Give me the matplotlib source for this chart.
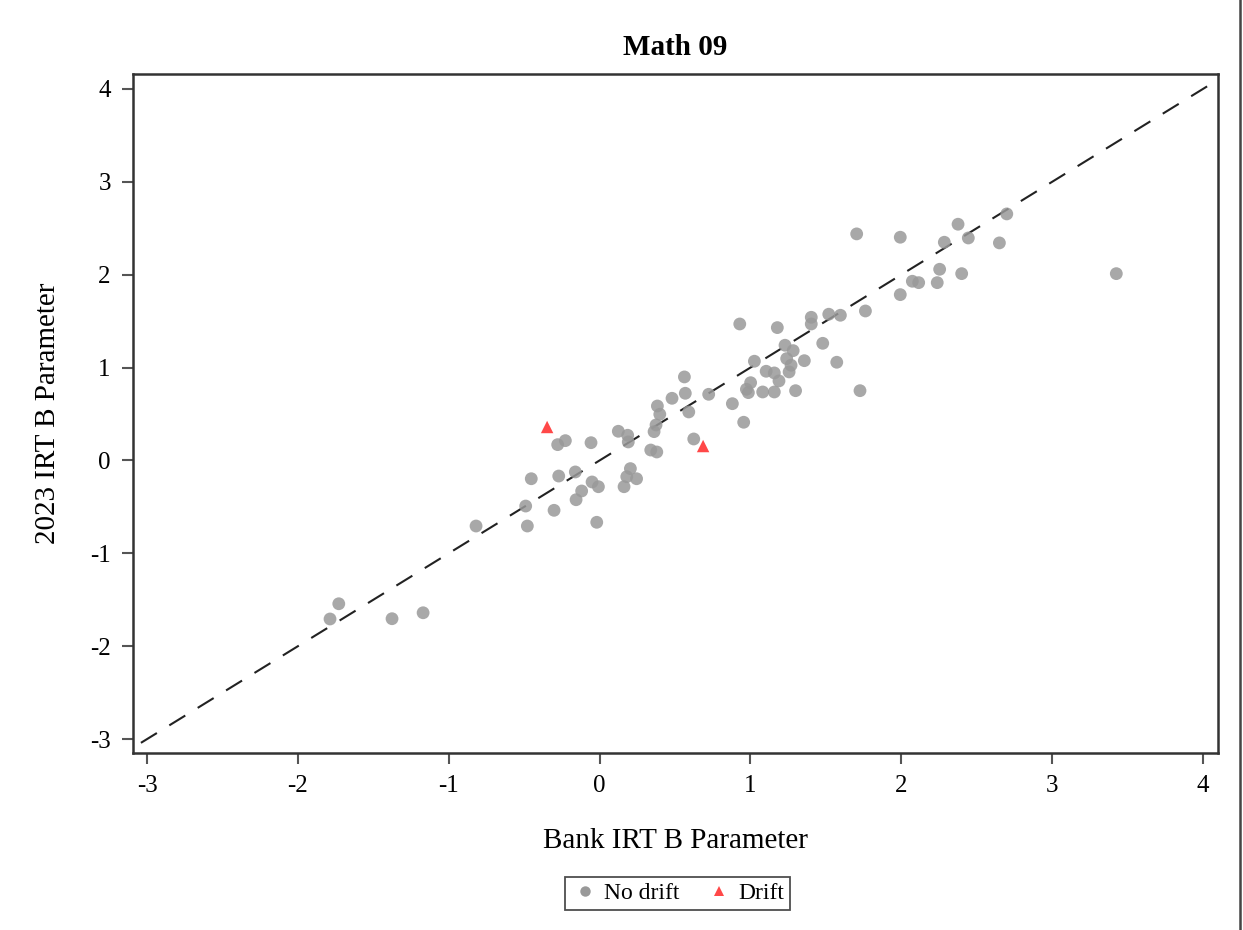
import matplotlib
matplotlib.use("Agg")
import matplotlib.pyplot as plt
from matplotlib.lines import Line2D

# Bank vs 2023 IRT B parameters, items without drift
bank_b = [
    -1.729, -1.787, -1.376, -1.170, -0.819, -0.479, -0.490, -0.453, -0.302, -0.271,
    -0.278, -0.227, -0.161, -0.156, -0.119, -0.057, -0.050, -0.008, -0.019, 0.124,
    0.186, 0.190, 0.162, 0.180, 0.204, 0.245, 0.339, 0.379, 0.361, 0.374,
    0.383, 0.399, 0.480, 0.562, 0.568, 0.591, 0.624, 0.723, 0.880, 0.955,
    0.929, 0.973, 0.986, 1.001, 1.026, 1.081, 1.104, 1.158, 1.158, 1.189,
    1.178, 1.229, 1.240, 1.283, 1.269, 1.256, 1.299, 1.357, 1.403, 1.403,
    1.479, 1.519, 1.572, 1.596, 1.704, 1.726, 1.762, 1.993, 1.993, 2.073,
    2.115, 2.238, 2.254, 2.285, 2.376, 2.400, 2.444, 2.650, 2.699, 3.425,
]
new_b = [
    -1.543, -1.707, -1.704, -1.640, -0.706, -0.706, -0.491, -0.197, -0.537, -0.168,
    0.170, 0.213, -0.124, -0.423, -0.329, 0.191, -0.232, -0.283, -0.666, 0.314,
    0.271, 0.199, -0.283, -0.175, -0.088, -0.197, 0.112, 0.091, 0.310, 0.382,
    0.586, 0.497, 0.669, 0.899, 0.723, 0.522, 0.231, 0.712, 0.611, 0.411,
    1.469, 0.766, 0.730, 0.837, 1.068, 0.737, 0.960, 0.942, 0.737, 0.856,
    1.430, 1.240, 1.096, 1.182, 1.025, 0.953, 0.751, 1.074, 1.541, 1.469,
    1.261, 1.574, 1.057, 1.563, 2.439, 0.751, 1.609, 2.403, 1.785, 1.929,
    1.914, 1.914, 2.058, 2.349, 2.543, 2.011, 2.395, 2.342, 2.654, 2.011,
]

# Items flagged as drifting
drift_bank_b = [-0.348, 0.686]
drift_new_b = [0.360, 0.155]

x_ticks = [-3, -2, -1, 0, 1, 2, 3, 4]
y_ticks = [-3, -2, -1, 0, 1, 2, 3, 4]
x_lim = (-3.093, 4.10)
y_lim = (-3.15, 4.16)

plt.rcParams["font.family"] = ["Liberation Serif", "DejaVu Serif"]

fig = plt.figure(figsize=(12.43, 9.30), dpi=100)
ax = fig.add_axes([0.107, 0.1903, 0.873, 0.7301])

# identity reference line
ax.plot([-4, 5], [-4, 5], linestyle=(0, (9, 7)), color="#222222", linewidth=1.5, zorder=1)

ax.scatter(bank_b, new_b, s=85, marker="o", color="#999999", alpha=0.85,
           edgecolors="none", zorder=2)
ax.scatter(drift_bank_b, drift_new_b, s=80, marker="^", color="#ff4848",
           edgecolors="none", zorder=3)

ax.set_xlim(*x_lim)
ax.set_ylim(*y_lim)
ax.set_xticks(x_ticks)
ax.set_yticks(y_ticks)
ax.set_xticklabels([str(t) for t in x_ticks])
ax.set_yticklabels([str(t) for t in y_ticks])
ax.tick_params(direction="out", length=8, width=1.5, color="#555555",
               labelsize=18, pad=8)

for spine in ax.spines.values():
    spine.set_linewidth(1.8)
    spine.set_color("#333333")

ax.set_title("Math 09", fontsize=21, fontweight="bold", pad=14)
ax.set_xlabel("Bank IRT B Parameter", fontsize=21, labelpad=22)
ax.set_ylabel("2023 IRT B Parameter", fontsize=21, labelpad=21)

handles = [
    Line2D([], [], marker="o", linestyle="none", color="#999999", markersize=7.5,
           markeredgewidth=0, label="No drift"),
    Line2D([], [], marker="^", linestyle="none", color="#ff4848", markersize=7,
           markeredgewidth=0, label="Drift"),
]
leg = fig.legend(handles=handles, loc="center", bbox_to_anchor=(0.545, 0.0395),
                 ncol=2, fontsize=17, frameon=True, fancybox=False,
                 handletextpad=0.2, columnspacing=1.1, borderpad=0.25,
                 handlelength=1.2)
leg.get_frame().set_edgecolor("#222222")
leg.get_frame().set_linewidth(1.3)

# page border line on the right
fig.add_artist(Line2D([0.9976, 0.9976], [0, 1], color="#444444", linewidth=1.8))

fig.savefig("out.png", dpi=100, facecolor="white")
